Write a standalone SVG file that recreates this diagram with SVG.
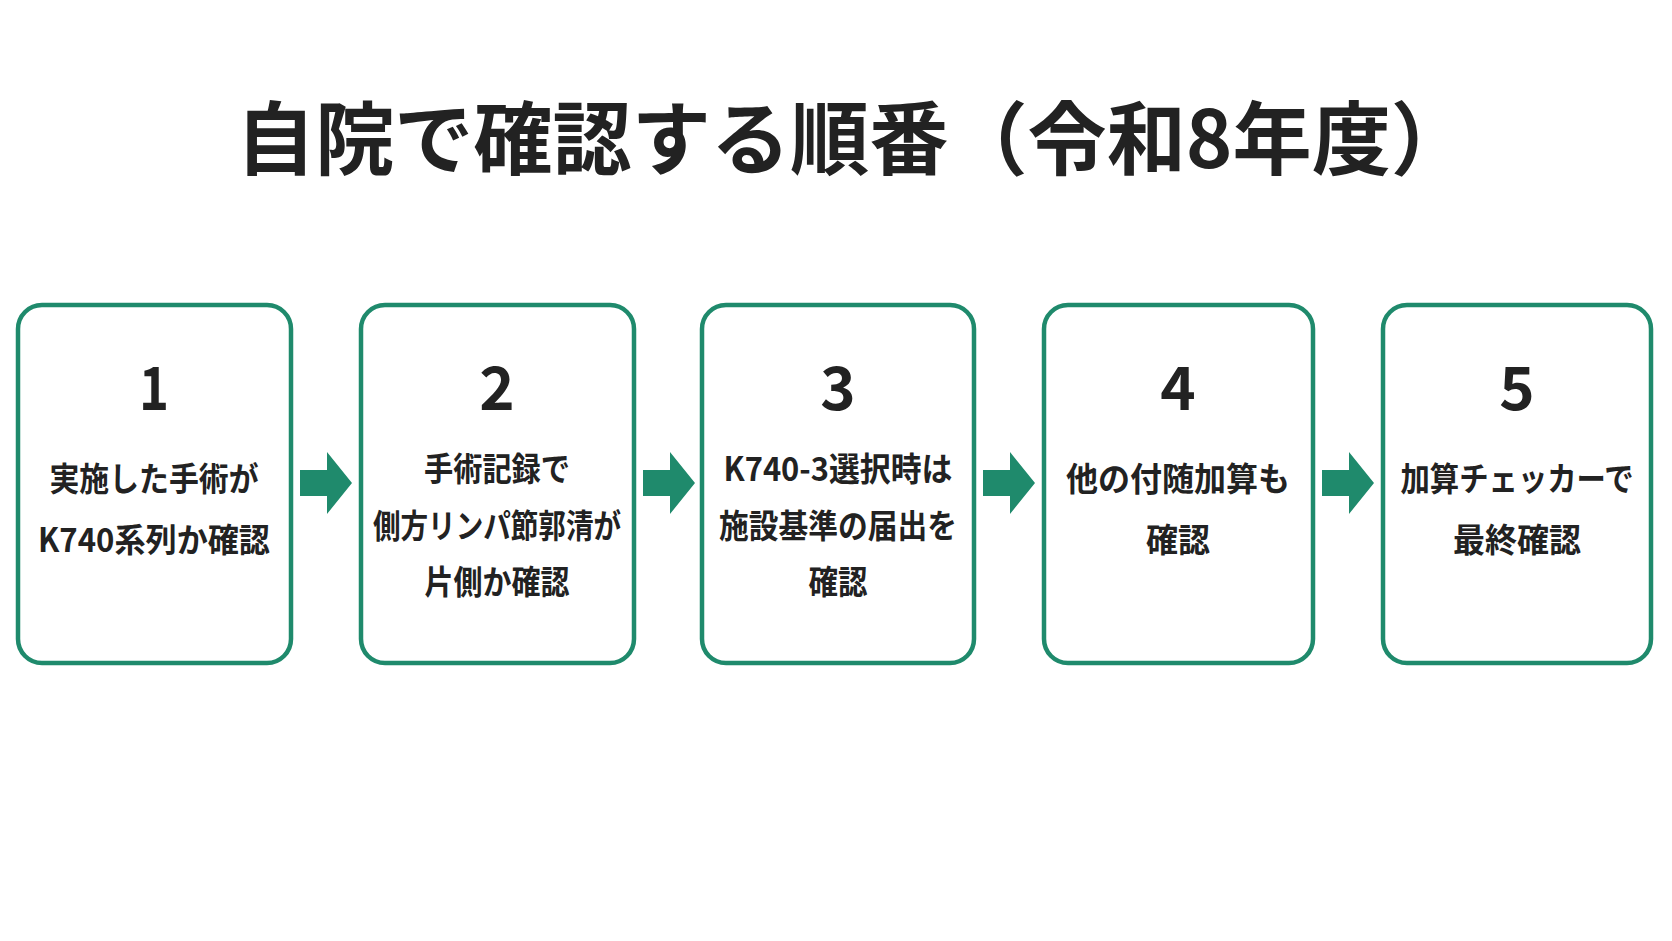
<svg xmlns="http://www.w3.org/2000/svg" width="1672" height="941" viewBox="0 0 1672 941">
<style>
text{font-family:"Noto Sans CJK JP","Noto Sans",sans-serif;font-weight:700;fill:#222;text-anchor:middle}
.box{fill:#fff;stroke:#1f8a6c;stroke-width:4.5}
.num{font-size:60px}
.t{font-size:33px}
.arr{fill:#1f8a6c}
</style>
<rect width="1672" height="941" fill="#fff"/>
<text x="853" y="168" font-size="80" textLength="1234" lengthAdjust="spacingAndGlyphs">自院で確認する順番（令和8年度）</text>
<g id="n1"><rect class="box" x="18" y="305" width="273" height="358" rx="24"/><text class="num" x="154" y="410" textLength="30" lengthAdjust="spacingAndGlyphs">1</text><text class="t" x="154" y="491" textLength="209" lengthAdjust="spacingAndGlyphs">実施した手術が</text><text class="t" x="154" y="552" textLength="232" lengthAdjust="spacingAndGlyphs">K740系列か確認</text></g>
<g id="n2"><rect class="box" x="361" y="305" width="273" height="358" rx="24"/><text class="num" x="497" y="410">2</text><text class="t" x="497" y="481" textLength="146" lengthAdjust="spacingAndGlyphs">手術記録で</text><text class="t" x="497" y="538" textLength="248" lengthAdjust="spacingAndGlyphs">側方リンパ節郭清が</text><text class="t" x="497" y="594" textLength="145" lengthAdjust="spacingAndGlyphs">片側か確認</text></g>
<g id="n3"><rect class="box" x="702" y="305" width="272" height="358" rx="24"/><text class="num" x="838" y="410">3</text><text class="t" x="838" y="481" textLength="229" lengthAdjust="spacingAndGlyphs">K740-3選択時は</text><text class="t" x="838" y="538" textLength="238" lengthAdjust="spacingAndGlyphs">施設基準の届出を</text><text class="t" x="838" y="594" textLength="59" lengthAdjust="spacingAndGlyphs">確認</text></g>
<g id="n4"><rect class="box" x="1044" y="305" width="269" height="358" rx="24"/><text class="num" x="1178" y="410">4</text><text class="t" x="1178" y="491" textLength="224" lengthAdjust="spacingAndGlyphs">他の付随加算も</text><text class="t" x="1178" y="552" textLength="64" lengthAdjust="spacingAndGlyphs">確認</text></g>
<g id="n5"><rect class="box" x="1383" y="305" width="268" height="358" rx="24"/><text class="num" x="1517" y="410">5</text><text class="t" x="1517" y="491" textLength="233" lengthAdjust="spacingAndGlyphs">加算チェッカーで</text><text class="t" x="1517" y="552" textLength="128" lengthAdjust="spacingAndGlyphs">最終確認</text></g>
<g id="connectors">
<polygon class="arr" points="300,470 327,470 327,452 352,483 327,514 327,496 300,496"/>
<polygon class="arr" points="643,470 670,470 670,452 695,483 670,514 670,496 643,496"/>
<polygon class="arr" points="983,470 1010,470 1010,452 1035,483 1010,514 1010,496 983,496"/>
<polygon class="arr" points="1322,470 1349,470 1349,452 1374,483 1349,514 1349,496 1322,496"/>
</g>
</svg>
